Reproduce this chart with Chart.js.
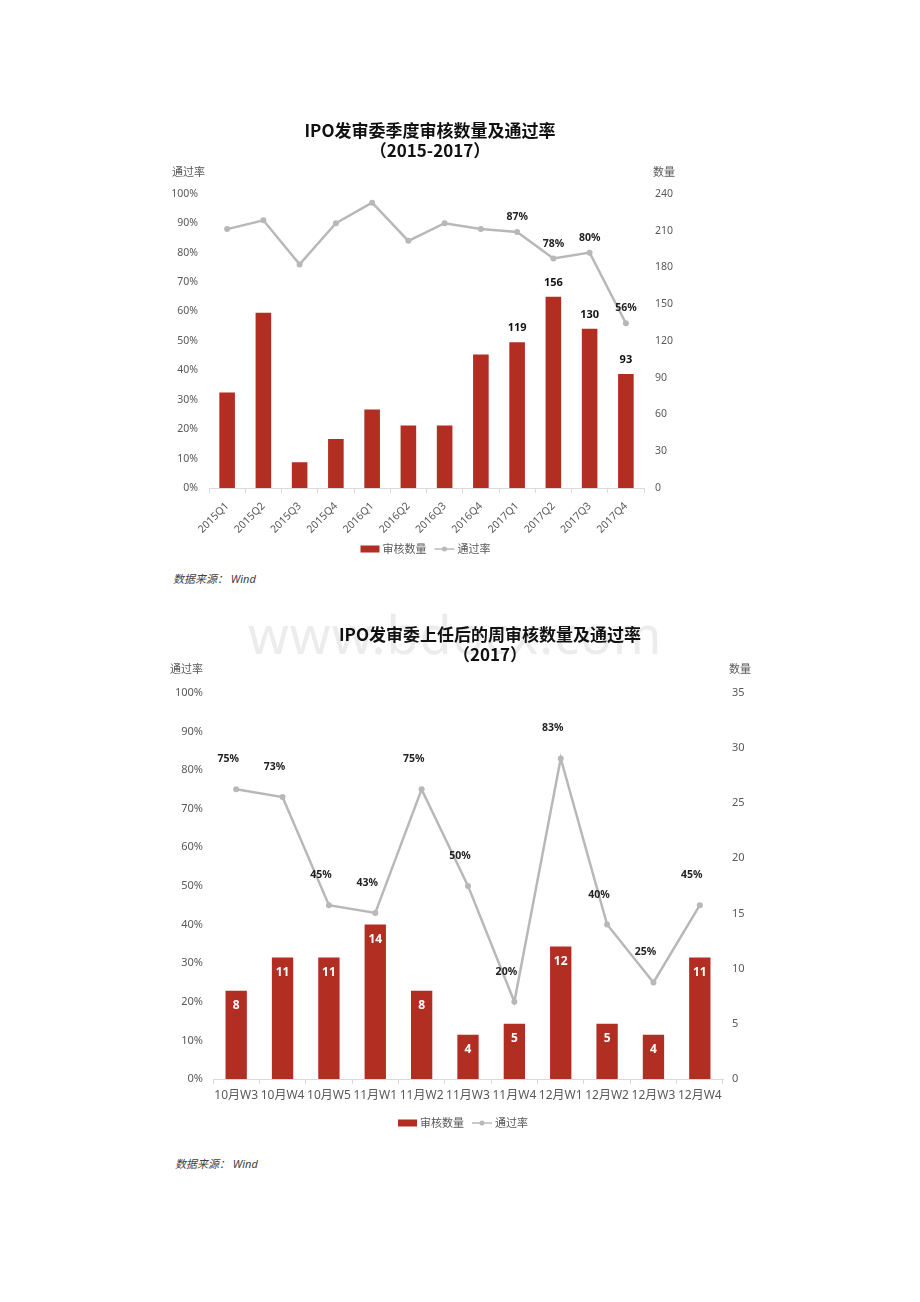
<!DOCTYPE html>
<html>
<head>
<meta charset="utf-8">
<script src="https://cdn.jsdelivr.net/npm/chart.js@4.4.0/dist/chart.umd.min.js"></script>
<style>
body{margin:0;background:#fff;width:920px;height:1302px;position:relative;overflow:hidden;font-family:"Noto Sans","Noto Sans CJK SC",sans-serif;}
.box{position:absolute;}
.src{position:absolute;font-size:11px;font-style:italic;color:#404040;font-family:"Noto Sans","Noto Sans CJK SC",sans-serif;}
.wm{position:absolute;left:248px;top:598px;font-size:52px;color:#ececec;font-family:"Noto Sans",sans-serif;letter-spacing:1px;}
</style>
</head>
<body>
<div class="wm">www.bdocx.com</div>
<div class="box" style="left:140px;top:110px;width:580px;height:460px"><canvas id="quarterChart"></canvas></div>
<div class="src" style="left:173px;top:570px">数据来源： Wind</div>
<div class="box" style="left:150px;top:610px;width:680px;height:530px"><canvas id="weekChart"></canvas></div>
<div class="src" style="left:175px;top:1155px">数据来源： Wind</div>
<script>
// data
var quarters = ["2015Q1","2015Q2","2015Q3","2015Q4","2016Q1","2016Q2","2016Q3","2016Q4","2017Q1","2017Q2","2017Q3","2017Q4"];
var quarterCounts = [78, 143, 21, 40, 64, 51, 51, 109, 119, 156, 130, 93];
var quarterRates = [88, 91, 76, 90, 97, 84, 90, 88, 87, 78, 80, 56];
var quarterLabelled = ["2017Q1","2017Q2","2017Q3","2017Q4"];

var weeks = ["10月W3","10月W4","10月W5","11月W1","11月W2","11月W3","11月W4","12月W1","12月W2","12月W3","12月W4"];
var weekCounts = [8, 11, 11, 14, 8, 4, 5, 12, 5, 4, 11];
var weekRates = [75, 73, 45, 43, 75, 50, 20, 83, 40, 25, 45];

var seriesNames = ["审核数量", "通过率"];
var axisTitles = ["通过率", "数量"];

var barColor = "#b22d22";
var lineColor = "#b8b8b8";
var tickColor = "#595959";

Chart.defaults.font.family = '"Noto Sans", "Noto Sans CJK SC", sans-serif';
Chart.defaults.color = tickColor;

// value labels drawn on top of bars / points
function valueLabels(opt) {
    return {
        id: "valueLabels",
        afterDatasetsDraw: function(chart) {
            var ctx = chart.ctx;
            ctx.save();
            ctx.textAlign = "center";
            ctx.textBaseline = "middle";
            chart.data.datasets.forEach(function(ds, di) {
                var o = ds.type === "line" ? opt.line : opt.bar;
                var meta = chart.getDatasetMeta(di);
                meta.data.forEach(function(el, i) {
                    if (opt.show && !opt.show(chart.data.labels[i])) return;
                    ctx.font = o.font;
                    ctx.fillStyle = o.color;
                    ctx.fillText(ds.data[i] + (o.suffix || ""), el.x + (o.dx || 0), el.y + o.dy);
                });
            });
            ctx.restore();
        }
    };
}

// axis titles + legend
function frame(opt) {
    return {
        id: "frame",
        afterDraw: function(chart) {
            var ctx = chart.ctx, a = chart.chartArea;
            ctx.save();
            ctx.font = '11px "Noto Sans CJK SC", sans-serif';
            ctx.fillStyle = tickColor;
            ctx.textBaseline = "middle";
            ctx.textAlign = "left";
            ctx.fillText(axisTitles[0], a.left + opt.leftDx, a.top - opt.titleDy);
            ctx.fillText(axisTitles[1], a.right + opt.rightDx, a.top - opt.titleDy);

            var y = a.bottom + opt.legendDy;
            var w1 = ctx.measureText(seriesNames[0]).width;
            var w2 = ctx.measureText(seriesNames[1]).width;
            var total = 19 + 3 + w1 + 8 + 20 + 3 + w2;
            var x = (a.left + a.right) / 2 - total / 2 + opt.legendDx;
            ctx.fillStyle = barColor;
            ctx.fillRect(x, y - 3.5, 19, 7);
            x += 22;
            ctx.fillStyle = tickColor;
            ctx.fillText(seriesNames[0], x, y);
            x += w1 + 8;
            ctx.strokeStyle = lineColor;
            ctx.lineWidth = 1.5;
            ctx.beginPath();
            ctx.moveTo(x, y);
            ctx.lineTo(x + 20, y);
            ctx.stroke();
            ctx.fillStyle = lineColor;
            ctx.beginPath();
            ctx.arc(x + 10, y, 2.5, 0, Math.PI * 2);
            ctx.fill();
            x += 23;
            ctx.fillStyle = tickColor;
            ctx.fillText(seriesNames[1], x, y);
            ctx.restore();
        }
    };
}

function pct(v) { return v + "%"; }

// Quarterly chart
var quarterCanvas = document.getElementById("quarterChart");
var ChartOne = new Chart(quarterCanvas, {
    type: "bar",
    data: {
        labels: quarters,
        datasets: [{
            type: "line",
            label: seriesNames[1],
            data: quarterRates,
            yAxisID: "y",
            borderColor: lineColor,
            backgroundColor: lineColor,
            borderWidth: 2.5,
            pointRadius: 3,
            pointBorderWidth: 0,
            pointBackgroundColor: lineColor,
            tension: 0,
            order: 0
        }, {
            type: "bar",
            label: seriesNames[0],
            data: quarterCounts,
            yAxisID: "y1",
            backgroundColor: barColor,
            categoryPercentage: 1,
            barPercentage: 0.43,
            order: 1
        }]
    },
    options: {
        responsive: true,
        maintainAspectRatio: false,
        animation: false,
        layout: { padding: { left: 9, right: 9, top: 0, bottom: 0 } },
        plugins: {
            legend: { display: false },
            tooltip: { enabled: false },
            title: {
                display: true,
                text: ["IPO发审委季度审核数量及通过率", "（2015-2017）"],
                color: "#111",
                font: { size: 17, weight: "bold", family: '"Noto Sans CJK SC", sans-serif' },
                padding: { top: 10, bottom: 33 }
            }
        },
        scales: {
            x: {
                grid: { offset: true, drawOnChartArea: false, drawTicks: true, tickLength: 5, color: "#d9d9d9" },
                border: { color: "#d9d9d9" },
                ticks: { minRotation: 45, maxRotation: 45, autoSkip: false, padding: 7, font: { size: 10.5 } },
                afterFit: function(s) { s.height = 82; }
            },
            y: {
                position: "left",
                min: 0, max: 100,
                grid: { display: false, drawTicks: false },
                border: { display: false },
                ticks: { stepSize: 10, padding: 11, callback: pct, font: { size: 10.5 } },
                afterFit: function(s) { s.width = 60; }
            },
            y1: {
                position: "right",
                min: 0, max: 240,
                grid: { display: false, drawTicks: false },
                border: { display: false },
                ticks: { stepSize: 30, padding: 11, font: { size: 10.5 } },
                afterFit: function(s) { s.width = 67; }
            }
        }
    },
    plugins: [
        valueLabels({
            show: function(lbl) { return quarterLabelled.indexOf(lbl) >= 0; },
            bar: { font: 'bold 11px "Noto Sans", sans-serif', color: "#111", dy: -14 },
            line: { font: 'bold 10.5px "Noto Sans", sans-serif', color: "#222", dy: -15, suffix: "%" }
        }),
        frame({ leftDx: -37, rightDx: 9, titleDy: 22, legendDy: 61, legendDx: -1 })
    ]
});

// Weekly chart
var weekCanvas = document.getElementById("weekChart");
var ChartTwo = new Chart(weekCanvas, {
    type: "bar",
    data: {
        labels: weeks,
        datasets: [{
            type: "line",
            label: seriesNames[1],
            data: weekRates,
            yAxisID: "y",
            borderColor: lineColor,
            backgroundColor: lineColor,
            borderWidth: 2.5,
            pointRadius: 3,
            pointBorderWidth: 0,
            pointBackgroundColor: lineColor,
            tension: 0,
            order: 0
        }, {
            type: "bar",
            label: seriesNames[0],
            data: weekCounts,
            yAxisID: "y1",
            backgroundColor: barColor,
            categoryPercentage: 1,
            barPercentage: 0.46,
            order: 1
        }]
    },
    options: {
        responsive: true,
        maintainAspectRatio: false,
        animation: false,
        layout: { padding: { left: 8, right: 8, top: 0, bottom: 0 } },
        plugins: {
            legend: { display: false },
            tooltip: { enabled: false },
            title: {
                display: true,
                text: ["IPO发审委上任后的周审核数量及通过率", "（2017）"],
                color: "#111",
                font: { size: 17, weight: "bold", family: '"Noto Sans CJK SC", sans-serif' },
                padding: { top: 14, bottom: 28 }
            }
        },
        scales: {
            x: {
                grid: { offset: true, drawOnChartArea: false, drawTicks: true, tickLength: 5, color: "#d9d9d9" },
                border: { color: "#d9d9d9" },
                ticks: { maxRotation: 0, autoSkip: false, padding: 4, font: { size: 12 } },
                afterFit: function(s) { s.height = 61; }
            },
            y: {
                position: "left",
                min: 0, max: 100,
                grid: { display: false, drawTicks: false },
                border: { display: false },
                ticks: { stepSize: 10, padding: 10, callback: pct, font: { size: 11 } },
                afterFit: function(s) { s.width = 55; }
            },
            y1: {
                position: "right",
                min: 0, max: 35,
                grid: { display: false, drawTicks: false },
                border: { display: false },
                ticks: { stepSize: 5, padding: 9, font: { size: 11 } },
                afterFit: function(s) { s.width = 99; }
            }
        }
    },
    plugins: [
        valueLabels({
            bar: { font: 'bold 12px "Noto Sans", sans-serif', color: "#fff", dy: 15 },
            line: { font: 'bold 10.5px "Noto Sans", sans-serif', color: "#222", dx: -8, dy: -30, suffix: "%" }
        }),
        frame({ leftDx: -43, rightDx: 6, titleDy: 24, legendDy: 44, legendDx: -5 })
    ]
});
</script>
</body>
</html>
